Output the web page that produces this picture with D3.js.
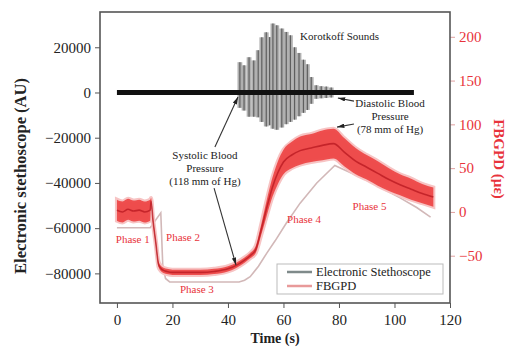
<!DOCTYPE html>
<html>
<head>
<meta charset="utf-8">
<script src="https://cdn.jsdelivr.net/npm/d3@7"></script>
<style>
  body { margin: 0; background: #fff; }
  text { font-family: "Liberation Serif", "DejaVu Serif", serif; }
</style>
</head>
<body>
<svg id="chart" width="520" height="350"></svg>
<script>
// ---- data ----
const xTicks = [0, 20, 40, 60, 80, 100, 120];
const leftTicks = [20000, 0, -20000, -40000, -60000, -80000];
const rightTicks = [200, 150, 100, 50, 0, -50];

// electronic stethoscope baseline (AU)
const steTime = [0, 107];
const steValue = [0, 0];

// Korotkoff burst: one column per beat (AU)
const burstTime = [44.3, 45.8, 47.6, 49.3, 50.9, 52.2, 53.8, 55.0, 56.2, 57.6, 59.4, 61.0, 62.5, 64.0, 65.6, 67.2, 68.6, 70.0, 71.8, 73.6, 75.4, 77.2];
const burstTop = [13400, 12000, 15600, 14200, 18700, 24400, 26600, 24500, 30500, 29700, 28300, 26800, 25300, 20000, 17500, 14500, 12500, 6800, 3200, 2800, 2600, 2200];
const burstBottom = [-6800, -8000, -10700, -10700, -11000, -13000, -15000, -14500, -16000, -16500, -15500, -14000, -13000, -12000, -10500, -9000, -7700, -5000, -2800, -2600, -2400, -2200];

// FBGPD strain (µε): band centre and half-width
const fbTime = [0, 2, 4, 6, 8, 10, 12, 12.3, 13, 14, 15, 16, 17, 18, 20, 25, 30, 35, 40, 43, 46, 48, 50, 52, 54, 56, 58, 60, 63, 66, 70, 74, 78, 82, 86, 90, 94, 98, 102, 106, 110, 114];
const fbValue = [2, 0, 3, 1, 2, 0, 2, 12, -10, -35, -60, -65, -67, -68, -69, -69, -69, -68, -65, -61, -55, -50, -43, -20, 5, 28, 45, 57, 65, 70, 73, 76, 78, 68, 58, 51, 44, 37, 31, 26, 21, 17];
const fbSpread = [12, 12, 12, 12, 12, 12, 12, 4, 3, 3, 3, 3, 3, 3, 3, 3, 3, 3, 3, 3, 3, 3, 4, 6, 9, 11, 13, 14, 15, 16, 16, 17, 17, 16, 15, 14, 14, 13, 12, 12, 11, 11];

// pale reference trace (µε)
const paleTime = [0, 12, 15.8, 16.5, 17.5, 19, 22, 44, 46, 48, 51, 54, 57, 61, 66, 72, 78.5, 84, 90, 96, 102, 108, 113];
const paleValue = [-18, -18, -1, -60, -76, -80, -80, -80, -78, -74, -62, -47, -33, -13, 10, 33, 53, 45, 36, 26, 16, 5, -6];

const phaseNames = ['Phase 1', 'Phase 2', 'Phase 3', 'Phase 4', 'Phase 5'];
const phaseTime = [5.7, 23.8, 28.8, 67.4, 91];
const phaseValue = [-31, -28.5, -88, -8, 7];

// ---- layout ----
const svg = d3.select('#chart');
const plot = { left: 100, right: 450, top: 12, bottom: 303 };

const x = d3.scaleLinear().domain([-6.1, 120]).range([plot.left, plot.right]);
const yL = d3.scaleLinear().domain([-93100, 35600]).range([plot.bottom, plot.top]);
const yR = d3.scaleLinear().domain([-104, 228.3]).range([plot.bottom, plot.top]);

const red = '#e8333b';

svg.append('rect')
  .attr('x', plot.left).attr('y', plot.top)
  .attr('width', plot.right - plot.left).attr('height', plot.bottom - plot.top)
  .attr('fill', '#fff');

// ---- axes ----
const gx = svg.append('g').attr('transform', `translate(0,${plot.bottom})`);
gx.call(d3.axisBottom(x).tickValues(d3.range(0, 121, 10)).tickSize(3).tickFormat(''));
gx.call(d3.axisBottom(x).tickValues(xTicks).tickSize(5).tickPadding(6).tickFormat(d3.format('d')));

const gl = svg.append('g').attr('transform', `translate(${plot.left},0)`);
gl.call(d3.axisLeft(yL).tickValues(d3.range(-90000, 30001, 10000)).tickSize(3).tickFormat(''));
gl.call(d3.axisLeft(yL).tickValues(leftTicks).tickSize(5).tickPadding(4).tickFormat(d3.format('d')));

const gr = svg.append('g').attr('transform', `translate(${plot.right},0)`);
gr.call(d3.axisRight(yR).tickValues(d3.range(-100, 226, 25)).tickSize(3).tickFormat(''));
gr.call(d3.axisRight(yR).tickValues(rightTicks).tickSize(5).tickPadding(4).tickFormat(d3.format('d')));

[gx, gl, gr].forEach(g => {
  g.selectAll('.domain').remove();
  g.selectAll('text').attr('font-size', 15).attr('fill', '#222');
  g.selectAll('line').attr('stroke', '#555');
});
gr.selectAll('text').attr('fill', red);
gr.selectAll('line').attr('stroke', '#e0a0a0');

// ---- pale trace ----
svg.append('path')
  .attr('d', d3.line().x((d, i) => x(paleTime[i])).y(d => yR(d))(paleValue))
  .attr('fill', 'none').attr('stroke', '#d2b8b8').attr('stroke-width', 1.6);

// ---- FBGPD band ----
const band = d3.area()
  .x((d, i) => x(fbTime[i]))
  .y0((d, i) => yR(d - fbSpread[i]))
  .y1((d, i) => yR(d + fbSpread[i]))
  .curve(d3.curveMonotoneX);
svg.append('path').attr('d', band(fbValue))
  .attr('fill', '#f7b5b5').attr('stroke', '#f7c4c4').attr('stroke-width', 4);
svg.append('path').attr('d', band(fbValue))
  .attr('fill', '#ec3a3a').attr('fill-opacity', 0.85);
svg.append('path')
  .attr('d', d3.line().x((d, i) => x(fbTime[i])).y(d => yR(d)).curve(d3.curveMonotoneX)(fbValue))
  .attr('fill', 'none').attr('stroke', '#b3141c').attr('stroke-width', 1.6).attr('stroke-opacity', 0.7);

// ---- stethoscope ----
const beats = svg.append('g');
beats.selectAll('rect').data(burstTop).join('rect')
  .attr('x', (d, i) => x(burstTime[i]) - 2.4)
  .attr('width', 4.8)
  .attr('y', d => yL(d))
  .attr('height', (d, i) => yL(burstBottom[i]) - yL(d))
  .attr('fill', '#b0b0b0');
beats.selectAll('line').data(burstTop).join('line')
  .attr('x1', (d, i) => x(burstTime[i])).attr('x2', (d, i) => x(burstTime[i]))
  .attr('y1', d => yL(d)).attr('y2', (d, i) => yL(burstBottom[i]))
  .attr('stroke', '#5e5e5e').attr('stroke-width', 1.2);

svg.append('path')
  .attr('d', d3.line().x((d, i) => x(steTime[i])).y(d => yL(d))(steValue))
  .attr('stroke', '#111').attr('stroke-width', 5).attr('fill', 'none');

// ---- frame ----
svg.append('rect')
  .attr('x', plot.left).attr('y', plot.top)
  .attr('width', plot.right - plot.left).attr('height', plot.bottom - plot.top)
  .attr('fill', 'none').attr('stroke', '#555').attr('stroke-width', 1.6);

// ---- annotations ----
svg.append('defs').append('marker')
  .attr('id', 'arr').attr('viewBox', '0 0 10 6').attr('refX', 10).attr('refY', 3)
  .attr('markerWidth', 7).attr('markerHeight', 4).attr('orient', 'auto')
  .append('path').attr('d', 'M0,0L10,3L0,6Z').attr('fill', '#222');

const arrows = [
  [35.3, -24100, 43.6, -2000],
  [35.0, -42300, 42.9, -76300],
  [85.4, -3800, 79.6, -2400],
  [85.4, -13900, 79.3, -15300]
];
svg.selectAll('.arrow').data(arrows).join('line')
  .attr('x1', d => x(d[0])).attr('y1', d => yL(d[1]))
  .attr('x2', d => x(d[2])).attr('y2', d => yL(d[3]))
  .attr('stroke', '#333').attr('stroke-width', 1.1)
  .attr('marker-end', 'url(#arr)');

const notes = [
  { t: 66, v: 25000, lines: ['Korotkoff Sounds'], anchor: 'start' },
  { t: 31.7, v: -27900, lines: ['Systolic Blood', 'Pressure', '(118 mm of Hg)'], anchor: 'middle' },
  { t: 98.4, v: -4600, lines: ['Diastolic Blood', 'Pressure', '(78 mm of Hg)'], anchor: 'middle' }
];
notes.forEach(n => {
  const t = svg.append('text')
    .attr('x', x(n.t)).attr('y', yL(n.v)).attr('dy', '0.35em')
    .attr('text-anchor', n.anchor).attr('font-size', 11).attr('fill', '#222');
  n.lines.forEach((l, i) => t.append('tspan')
    .attr('x', x(n.t)).attr('dy', i === 0 ? '0.35em' : '1.18em').text(l));
});

svg.selectAll('.phase').data(phaseNames).join('text')
  .attr('x', (d, i) => x(phaseTime[i])).attr('y', (d, i) => yR(phaseValue[i]))
  .attr('dy', '0.35em').attr('text-anchor', 'middle')
  .attr('font-size', 11).attr('fill', red).text(d => d);

// ---- legend ----
const lg = svg.append('g').attr('transform', 'translate(277,264)');
lg.append('rect').attr('width', 166).attr('height', 30)
  .attr('fill', '#fff').attr('stroke', '#bbb');
const legendNames = ['Electronic Stethoscope', 'FBGPD'];
const legendColors = ['#7f8a8a', '#e89a9a'];
legendNames.forEach((n, i) => {
  lg.append('line').attr('x1', 10).attr('x2', 35).attr('y1', 8 + i * 14).attr('y2', 8 + i * 14)
    .attr('stroke', legendColors[i]).attr('stroke-width', 2.5);
  lg.append('text').attr('x', 39).attr('y', 8 + i * 14).attr('dy', '0.35em')
    .attr('font-size', 12.5).attr('fill', '#222').text(n);
});

// ---- axis titles ----
svg.append('text').attr('x', (plot.left + plot.right) / 2).attr('y', 343)
  .attr('text-anchor', 'middle').attr('font-size', 14).attr('font-weight', 'bold')
  .attr('fill', '#222').text('Time (s)');
svg.append('text').attr('transform', 'translate(26,176) rotate(-90)')
  .attr('text-anchor', 'middle').attr('font-size', 16.5).attr('font-weight', 'bold')
  .attr('fill', '#222').text('Electronic stethoscope (AU)');
svg.append('text').attr('transform', 'translate(494,159) rotate(90)')
  .attr('text-anchor', 'middle').attr('font-size', 15).attr('font-weight', 'bold')
  .attr('fill', red).text('FBGPD (µε)');
</script>
</body>
</html>
